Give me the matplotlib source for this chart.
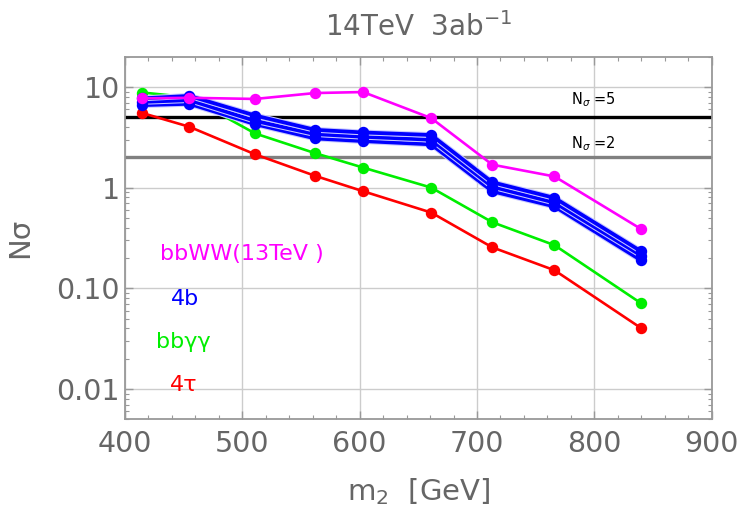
import numpy as np
import matplotlib.pyplot as plt
import matplotlib.patheffects as pe
from matplotlib.ticker import FixedLocator, NullFormatter

# masas (GeV)
m2 = [415, 455, 511, 562, 603, 661, 713, 766, 840]

# significancias
bbWW = [7.7, 7.8, 7.6, 8.7, 8.9, 4.9, 1.69, 1.29, 0.386]
bbgg = [8.8, 7.9, 3.45, 2.2, 1.58, 1.0, 0.453, 0.268, 0.0706]
tau4 = [5.5, 4.02, 2.14, 1.31, 0.92, 0.565, 0.255, 0.151, 0.040]
b4_alto = [7.7, 8.15, 5.2, 3.75, 3.53, 3.33, 1.13, 0.79, 0.232]
b4_medio = [7.1, 7.4, 4.6, 3.4, 3.2, 2.99, 1.02, 0.71, 0.211]
b4_bajo = [6.6, 6.8, 4.27, 3.08, 2.9, 2.69, 0.92, 0.65, 0.189]

umbrales = [5, 2]
etiquetas_y = ['0.01', '0.10', '1', '10']
valores_y = [0.01, 0.1, 1, 10]

gris = '#666666'

fig = plt.figure(figsize=(7.43, 5.15), dpi=100)
ax = fig.add_axes([0.168, 0.186, 0.79, 0.704])

ax.set_yscale('log')
ax.set_xlim(400, 900)
ax.set_ylim(0.005, 20)

# lineas de umbral
ax.axhline(umbrales[0], color='black', lw=2.4, zorder=2)
ax.axhline(umbrales[1], color='#808080', lw=2.4, zorder=2)
ax.text(799, 7.4, r'N$_\sigma$ =5', ha='center', va='center', fontsize=10.5)
ax.text(799, 2.75, r'N$_\sigma$ =2', ha='center', va='center', fontsize=10.5)

kw = dict(lw=1.9, marker='o', markersize=7.2, zorder=3)
ax.plot(m2, tau4, color='#ff0000', **kw)
ax.plot(m2, bbgg, color='#00ee00', **kw)
borde = [pe.Stroke(linewidth=4.2, foreground='#c8c8ff'), pe.Normal()]
for serie in [b4_bajo, b4_medio, b4_alto]:
    ax.plot(m2, serie, color='#0000ff', lw=2.7, path_effects=borde, zorder=3)
for serie in [b4_bajo, b4_medio, b4_alto]:
    ax.plot(m2, serie, color='#0000ff', ls='none', marker='o', markersize=7.2, zorder=3)
ax.plot(m2, bbWW, color='#ff00ff', **kw)

# leyenda como texto
ax.text(500, 0.22, 'bbWW(13TeV )', color='#ff00ff', ha='center', va='center', fontsize=16)
ax.text(451, 0.078, '4b', color='#0000ff', ha='center', va='center', fontsize=16)
ax.text(450, 0.0294, 'bbγγ', color='#00ee00', ha='center', va='center', fontsize=16)
ax.text(450, 0.011, '4τ', color='#ff0000', ha='center', va='center', fontsize=16)

# ejes y rejilla
ax.set_xticks([400, 500, 600, 700, 800, 900])
ax.xaxis.set_minor_locator(FixedLocator(np.arange(400, 901, 20)))
ax.set_yticks(valores_y)
ax.set_yticklabels(etiquetas_y)
ax.yaxis.set_minor_formatter(NullFormatter())
ax.grid(True, which='major', color='#cccccc', lw=1)
ax.set_axisbelow(True)

ax.tick_params(which='both', direction='in', top=True, right=True, colors='#999999',
               labelcolor=gris, labelsize=20.5)
ax.tick_params(which='major', length=6, width=1)
ax.tick_params(which='minor', length=3, width=0.8)
ax.tick_params(axis='x', pad=8)
for s in ax.spines.values():
    s.set_color('#999999')
    s.set_linewidth(1.3)

ax.set_title(r'14TeV  3ab$^{-1}$', color=gris, fontsize=20, pad=15)
ax.set_xlabel(r'm$_2$  [GeV]', color=gris, fontsize=21, labelpad=13)
ax.set_ylabel('Nσ', color=gris, fontsize=21, labelpad=16)

plt.savefig('out.png', dpi=100)
